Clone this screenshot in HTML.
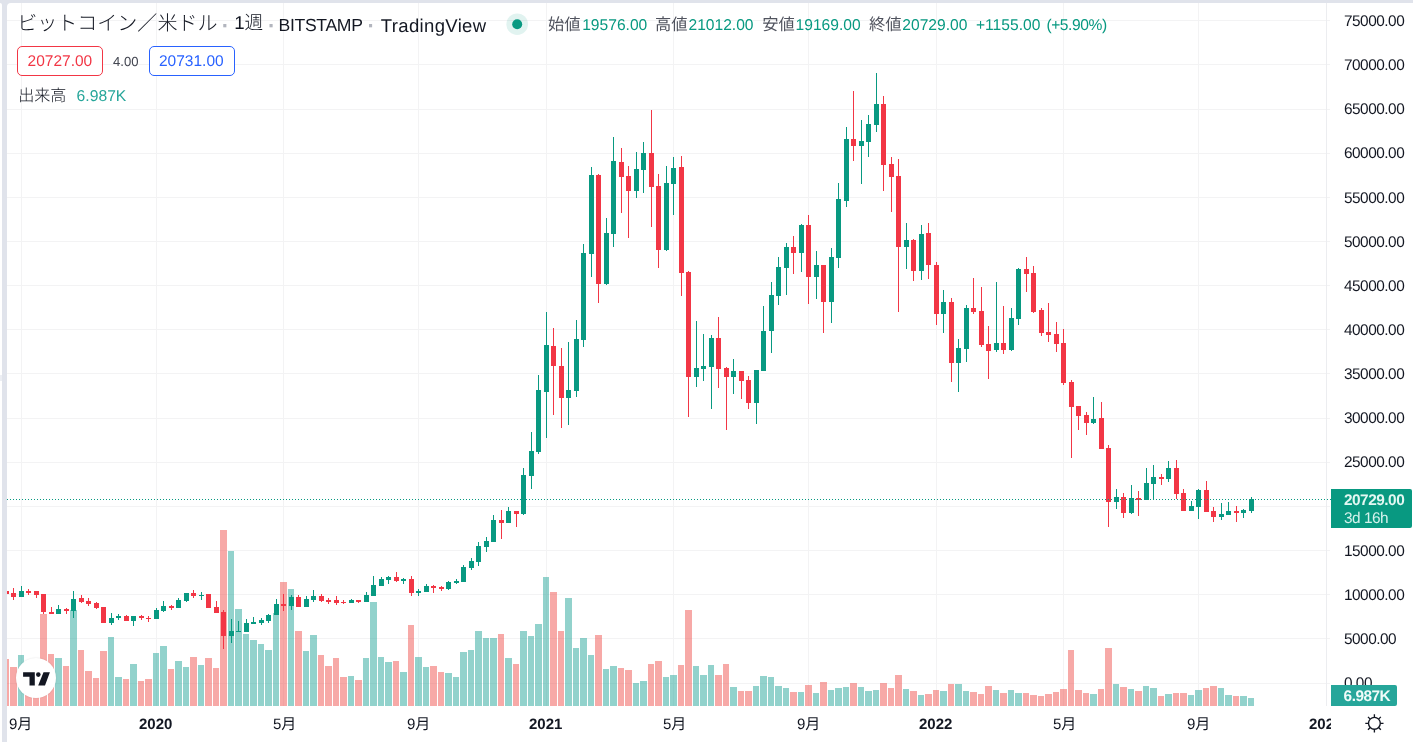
<!DOCTYPE html>
<html lang="ja">
<head>
<meta charset="utf-8">
<title>ビットコイン／米ドル</title>
<style>
html,body{margin:0;padding:0;}
body{width:1413px;height:742px;overflow:hidden;background:#e0e3eb;position:relative;
 font-family:"Liberation Sans","Noto Sans CJK JP",sans-serif;color:#131722;text-rendering:geometricPrecision;}
.leftw{position:absolute;left:0;top:3px;width:2px;height:739px;background:#fff;border-top-right-radius:2px;}
.panel{position:absolute;left:7px;top:3px;width:1406px;height:739px;background:#fff;border-top-left-radius:4px;}
svg.chart{position:absolute;left:0;top:0;}
.t{position:absolute;white-space:nowrap;line-height:1;}
.ax{font-size:15.4px;letter-spacing:-0.5px;color:#131722;}
.tm{font-size:15px;color:#131722;}
.b{font-weight:bold;}
.title{font-size:18px;color:#131722;}
.sep{color:#b2b5be;}
.lbl{color:#50535e;}
.gv{color:#089981;}
.box{position:absolute;box-sizing:border-box;border:1px solid;border-radius:5px;background:#fff;}
.plabel{position:absolute;left:1331px;top:489px;width:81px;height:39px;background:#089981;border-radius:0 2px 2px 0;}
.vlabel{position:absolute;left:1331px;top:685px;width:66px;height:21px;background:#26a69a;border-radius:0 2px 2px 0;}
.timeclip{position:absolute;left:7px;top:706px;width:1324px;height:36px;overflow:hidden;}
</style>
</head>
<body>
<div class="leftw"></div>
<div class="panel"></div>
<svg class="chart" width="1413" height="742" viewBox="0 0 1413 742" shape-rendering="crispEdges">
<defs><clipPath id="cp"><rect x="7" y="3" width="1406" height="739"/></clipPath></defs><g clip-path="url(#cp)">
<g fill="#f3f3f4"><rect x="7" y="20" width="1323" height="1"/><rect x="7" y="64" width="1323" height="1"/><rect x="7" y="109" width="1323" height="1"/><rect x="7" y="153" width="1323" height="1"/><rect x="7" y="197" width="1323" height="1"/><rect x="7" y="241" width="1323" height="1"/><rect x="7" y="285" width="1323" height="1"/><rect x="7" y="329" width="1323" height="1"/><rect x="7" y="373" width="1323" height="1"/><rect x="7" y="418" width="1323" height="1"/><rect x="7" y="462" width="1323" height="1"/><rect x="7" y="506" width="1323" height="1"/><rect x="7" y="550" width="1323" height="1"/><rect x="7" y="594" width="1323" height="1"/><rect x="7" y="638" width="1323" height="1"/><rect x="7" y="683" width="1323" height="1"/><rect x="21" y="3" width="1" height="703"/><rect x="156" y="3" width="1" height="703"/><rect x="283" y="3" width="1" height="703"/><rect x="418" y="3" width="1" height="703"/><rect x="546" y="3" width="1" height="703"/><rect x="673" y="3" width="1" height="703"/><rect x="808" y="3" width="1" height="703"/><rect x="936" y="3" width="1" height="703"/><rect x="1063" y="3" width="1" height="703"/><rect x="1198" y="3" width="1" height="703"/></g>
<rect x="1326" y="3" width="1" height="703" fill="#ecedf0"/>
<g fill="#26a69a" fill-opacity="0.5"><rect x="18" y="655" width="6" height="51"/><rect x="55" y="658" width="7" height="48"/><rect x="70" y="610" width="7" height="96"/><rect x="108" y="637" width="6" height="69"/><rect x="115" y="677" width="7" height="29"/><rect x="130" y="664" width="7" height="42"/><rect x="153" y="653" width="6" height="53"/><rect x="160" y="646" width="7" height="60"/><rect x="175" y="661" width="7" height="45"/><rect x="183" y="667" width="6" height="39"/><rect x="198" y="665" width="6" height="41"/><rect x="228" y="551" width="6" height="155"/><rect x="235" y="609" width="7" height="97"/><rect x="243" y="634" width="6" height="72"/><rect x="250" y="640" width="7" height="66"/><rect x="258" y="644" width="6" height="62"/><rect x="265" y="650" width="7" height="56"/><rect x="273" y="613" width="6" height="93"/><rect x="288" y="589" width="6" height="117"/><rect x="303" y="651" width="6" height="55"/><rect x="310" y="635" width="7" height="71"/><rect x="348" y="676" width="6" height="30"/><rect x="363" y="658" width="6" height="48"/><rect x="370" y="602" width="7" height="104"/><rect x="378" y="657" width="6" height="49"/><rect x="385" y="662" width="7" height="44"/><rect x="400" y="672" width="7" height="34"/><rect x="415" y="657" width="7" height="49"/><rect x="423" y="667" width="6" height="39"/><rect x="445" y="673" width="7" height="33"/><rect x="453" y="677" width="6" height="29"/><rect x="460" y="652" width="7" height="54"/><rect x="468" y="650" width="6" height="56"/><rect x="475" y="631" width="7" height="75"/><rect x="483" y="638" width="6" height="68"/><rect x="490" y="638" width="7" height="68"/><rect x="505" y="658" width="7" height="48"/><rect x="520" y="631" width="7" height="75"/><rect x="528" y="636" width="6" height="70"/><rect x="535" y="624" width="7" height="82"/><rect x="543" y="577" width="6" height="129"/><rect x="565" y="598" width="7" height="108"/><rect x="573" y="648" width="6" height="58"/><rect x="580" y="638" width="7" height="68"/><rect x="588" y="655" width="6" height="51"/><rect x="603" y="669" width="6" height="37"/><rect x="610" y="666" width="7" height="40"/><rect x="633" y="683" width="6" height="23"/><rect x="640" y="681" width="7" height="25"/><rect x="663" y="677" width="6" height="29"/><rect x="670" y="675" width="7" height="31"/><rect x="693" y="666" width="6" height="40"/><rect x="700" y="675" width="7" height="31"/><rect x="708" y="665" width="6" height="41"/><rect x="730" y="687" width="7" height="19"/><rect x="753" y="686" width="6" height="20"/><rect x="760" y="676" width="7" height="30"/><rect x="768" y="677" width="6" height="29"/><rect x="775" y="686" width="7" height="20"/><rect x="783" y="688" width="6" height="18"/><rect x="798" y="692" width="6" height="14"/><rect x="813" y="693" width="6" height="13"/><rect x="828" y="690" width="6" height="16"/><rect x="835" y="688" width="7" height="18"/><rect x="843" y="687" width="6" height="19"/><rect x="858" y="687" width="6" height="19"/><rect x="865" y="691" width="7" height="15"/><rect x="873" y="690" width="6" height="16"/><rect x="903" y="689" width="6" height="17"/><rect x="918" y="695" width="6" height="11"/><rect x="940" y="691" width="7" height="15"/><rect x="955" y="684" width="7" height="22"/><rect x="963" y="691" width="6" height="15"/><rect x="993" y="690" width="6" height="16"/><rect x="1008" y="690" width="6" height="16"/><rect x="1015" y="693" width="7" height="13"/><rect x="1090" y="694" width="7" height="12"/><rect x="1113" y="684" width="6" height="22"/><rect x="1128" y="689" width="6" height="17"/><rect x="1143" y="686" width="6" height="20"/><rect x="1150" y="688" width="7" height="18"/><rect x="1165" y="694" width="7" height="12"/><rect x="1188" y="695" width="6" height="11"/><rect x="1195" y="690" width="7" height="16"/><rect x="1218" y="688" width="6" height="18"/><rect x="1225" y="695" width="7" height="11"/><rect x="1240" y="696" width="7" height="10"/><rect x="1248" y="698" width="6" height="8"/></g>
<g fill="#ef5350" fill-opacity="0.5"><rect x="3" y="659" width="6" height="47"/><rect x="10" y="667" width="7" height="39"/><rect x="25" y="672" width="7" height="34"/><rect x="33" y="674" width="6" height="32"/><rect x="40" y="614" width="7" height="92"/><rect x="48" y="654" width="6" height="52"/><rect x="63" y="666" width="6" height="40"/><rect x="78" y="650" width="6" height="56"/><rect x="85" y="671" width="7" height="35"/><rect x="93" y="678" width="6" height="28"/><rect x="100" y="651" width="7" height="55"/><rect x="123" y="679" width="6" height="27"/><rect x="138" y="681" width="6" height="25"/><rect x="145" y="679" width="7" height="27"/><rect x="168" y="669" width="6" height="37"/><rect x="190" y="657" width="7" height="49"/><rect x="205" y="658" width="7" height="48"/><rect x="213" y="668" width="6" height="38"/><rect x="220" y="530" width="7" height="176"/><rect x="280" y="582" width="7" height="124"/><rect x="295" y="631" width="7" height="75"/><rect x="318" y="655" width="6" height="51"/><rect x="325" y="666" width="7" height="40"/><rect x="333" y="658" width="6" height="48"/><rect x="340" y="677" width="7" height="29"/><rect x="355" y="680" width="7" height="26"/><rect x="393" y="661" width="6" height="45"/><rect x="408" y="625" width="6" height="81"/><rect x="430" y="666" width="7" height="40"/><rect x="438" y="672" width="6" height="34"/><rect x="498" y="634" width="6" height="72"/><rect x="513" y="664" width="6" height="42"/><rect x="550" y="592" width="7" height="114"/><rect x="558" y="631" width="6" height="75"/><rect x="595" y="635" width="7" height="71"/><rect x="618" y="668" width="6" height="38"/><rect x="625" y="670" width="7" height="36"/><rect x="648" y="664" width="6" height="42"/><rect x="655" y="661" width="7" height="45"/><rect x="678" y="665" width="6" height="41"/><rect x="685" y="610" width="7" height="96"/><rect x="715" y="675" width="7" height="31"/><rect x="723" y="664" width="6" height="42"/><rect x="738" y="691" width="6" height="15"/><rect x="745" y="691" width="7" height="15"/><rect x="790" y="692" width="7" height="14"/><rect x="805" y="685" width="7" height="21"/><rect x="820" y="682" width="7" height="24"/><rect x="850" y="683" width="7" height="23"/><rect x="880" y="683" width="7" height="23"/><rect x="888" y="688" width="6" height="18"/><rect x="895" y="675" width="7" height="31"/><rect x="910" y="691" width="7" height="15"/><rect x="925" y="694" width="7" height="12"/><rect x="933" y="690" width="6" height="16"/><rect x="948" y="684" width="6" height="22"/><rect x="970" y="692" width="7" height="14"/><rect x="978" y="694" width="6" height="12"/><rect x="985" y="686" width="7" height="20"/><rect x="1000" y="693" width="7" height="13"/><rect x="1023" y="693" width="6" height="13"/><rect x="1030" y="695" width="7" height="11"/><rect x="1038" y="696" width="6" height="10"/><rect x="1045" y="694" width="7" height="12"/><rect x="1053" y="692" width="6" height="14"/><rect x="1060" y="689" width="7" height="17"/><rect x="1068" y="650" width="6" height="56"/><rect x="1075" y="690" width="7" height="16"/><rect x="1083" y="693" width="6" height="13"/><rect x="1098" y="689" width="6" height="17"/><rect x="1105" y="648" width="7" height="58"/><rect x="1120" y="687" width="7" height="19"/><rect x="1135" y="691" width="7" height="15"/><rect x="1158" y="696" width="6" height="10"/><rect x="1173" y="693" width="6" height="13"/><rect x="1180" y="693" width="7" height="13"/><rect x="1203" y="688" width="6" height="18"/><rect x="1210" y="686" width="7" height="20"/><rect x="1233" y="696" width="6" height="10"/></g>
<g fill="#089981"><rect x="21" y="586" width="1" height="11"/><rect x="19" y="591" width="5" height="6"/><rect x="58" y="605" width="1" height="9"/><rect x="56" y="609" width="5" height="5"/><rect x="73" y="591" width="1" height="27"/><rect x="71" y="599" width="5" height="12"/><rect x="111" y="613" width="1" height="12"/><rect x="109" y="618" width="5" height="5"/><rect x="118" y="614" width="1" height="6"/><rect x="116" y="616" width="5" height="2"/><rect x="133" y="616" width="1" height="10"/><rect x="131" y="616" width="5" height="5"/><rect x="156" y="608" width="1" height="11"/><rect x="154" y="610" width="5" height="9"/><rect x="163" y="601" width="1" height="11"/><rect x="161" y="606" width="5" height="5"/><rect x="178" y="598" width="1" height="10"/><rect x="176" y="600" width="5" height="8"/><rect x="186" y="593" width="1" height="9"/><rect x="184" y="593" width="5" height="8"/><rect x="201" y="592" width="1" height="8"/><rect x="199" y="595" width="5" height="1"/><rect x="231" y="619" width="1" height="24"/><rect x="229" y="631" width="5" height="5"/><rect x="238" y="621" width="1" height="11"/><rect x="236" y="631" width="5" height="1"/><rect x="246" y="619" width="1" height="13"/><rect x="244" y="623" width="5" height="9"/><rect x="253" y="617" width="1" height="7"/><rect x="251" y="622" width="5" height="2"/><rect x="261" y="618" width="1" height="7"/><rect x="259" y="620" width="5" height="3"/><rect x="268" y="614" width="1" height="9"/><rect x="266" y="615" width="5" height="6"/><rect x="276" y="599" width="1" height="16"/><rect x="274" y="604" width="5" height="11"/><rect x="291" y="595" width="1" height="15"/><rect x="289" y="597" width="5" height="9"/><rect x="306" y="596" width="1" height="11"/><rect x="304" y="599" width="5" height="8"/><rect x="313" y="590" width="1" height="12"/><rect x="311" y="596" width="5" height="4"/><rect x="351" y="599" width="1" height="4"/><rect x="349" y="600" width="5" height="3"/><rect x="366" y="592" width="1" height="10"/><rect x="364" y="595" width="5" height="7"/><rect x="373" y="576" width="1" height="20"/><rect x="371" y="585" width="5" height="11"/><rect x="381" y="577" width="1" height="9"/><rect x="379" y="579" width="5" height="7"/><rect x="388" y="576" width="1" height="8"/><rect x="386" y="577" width="5" height="3"/><rect x="403" y="578" width="1" height="6"/><rect x="401" y="579" width="5" height="2"/><rect x="418" y="589" width="1" height="7"/><rect x="416" y="591" width="5" height="2"/><rect x="426" y="584" width="1" height="8"/><rect x="424" y="586" width="5" height="6"/><rect x="448" y="581" width="1" height="9"/><rect x="446" y="582" width="5" height="7"/><rect x="456" y="579" width="1" height="5"/><rect x="454" y="581" width="5" height="2"/><rect x="463" y="565" width="1" height="17"/><rect x="461" y="567" width="5" height="15"/><rect x="471" y="558" width="1" height="12"/><rect x="469" y="561" width="5" height="7"/><rect x="478" y="542" width="1" height="24"/><rect x="476" y="546" width="5" height="16"/><rect x="486" y="537" width="1" height="15"/><rect x="484" y="541" width="5" height="6"/><rect x="493" y="515" width="1" height="27"/><rect x="491" y="520" width="5" height="22"/><rect x="508" y="507" width="1" height="16"/><rect x="506" y="511" width="5" height="12"/><rect x="523" y="468" width="1" height="47"/><rect x="521" y="475" width="5" height="39"/><rect x="531" y="432" width="1" height="57"/><rect x="529" y="451" width="5" height="25"/><rect x="538" y="375" width="1" height="79"/><rect x="536" y="390" width="5" height="62"/><rect x="546" y="312" width="1" height="126"/><rect x="544" y="345" width="5" height="47"/><rect x="568" y="342" width="1" height="83"/><rect x="566" y="390" width="5" height="8"/><rect x="576" y="320" width="1" height="77"/><rect x="574" y="339" width="5" height="52"/><rect x="583" y="244" width="1" height="103"/><rect x="581" y="253" width="5" height="87"/><rect x="591" y="167" width="1" height="110"/><rect x="589" y="175" width="5" height="79"/><rect x="606" y="218" width="1" height="67"/><rect x="604" y="233" width="5" height="51"/><rect x="613" y="137" width="1" height="110"/><rect x="611" y="161" width="5" height="73"/><rect x="636" y="152" width="1" height="46"/><rect x="634" y="169" width="5" height="22"/><rect x="643" y="142" width="1" height="51"/><rect x="641" y="153" width="5" height="17"/><rect x="666" y="166" width="1" height="85"/><rect x="664" y="183" width="5" height="67"/><rect x="673" y="157" width="1" height="58"/><rect x="671" y="168" width="5" height="16"/><rect x="696" y="321" width="1" height="66"/><rect x="694" y="368" width="5" height="9"/><rect x="703" y="334" width="1" height="47"/><rect x="701" y="366" width="5" height="3"/><rect x="711" y="335" width="1" height="74"/><rect x="709" y="338" width="5" height="29"/><rect x="733" y="359" width="1" height="35"/><rect x="731" y="371" width="5" height="6"/><rect x="756" y="370" width="1" height="54"/><rect x="754" y="370" width="5" height="33"/><rect x="763" y="306" width="1" height="65"/><rect x="761" y="331" width="5" height="40"/><rect x="771" y="282" width="1" height="71"/><rect x="769" y="295" width="5" height="36"/><rect x="778" y="257" width="1" height="48"/><rect x="776" y="267" width="5" height="29"/><rect x="786" y="243" width="1" height="52"/><rect x="784" y="247" width="5" height="21"/><rect x="801" y="224" width="1" height="48"/><rect x="799" y="225" width="5" height="28"/><rect x="816" y="251" width="1" height="48"/><rect x="814" y="265" width="5" height="12"/><rect x="831" y="248" width="1" height="75"/><rect x="829" y="257" width="5" height="45"/><rect x="838" y="183" width="1" height="85"/><rect x="836" y="199" width="5" height="59"/><rect x="846" y="127" width="1" height="80"/><rect x="844" y="139" width="5" height="62"/><rect x="861" y="120" width="1" height="64"/><rect x="859" y="141" width="5" height="5"/><rect x="868" y="115" width="1" height="42"/><rect x="866" y="124" width="5" height="18"/><rect x="876" y="73" width="1" height="59"/><rect x="874" y="104" width="5" height="21"/><rect x="906" y="223" width="1" height="46"/><rect x="904" y="240" width="5" height="7"/><rect x="921" y="225" width="1" height="55"/><rect x="919" y="234" width="5" height="37"/><rect x="943" y="290" width="1" height="43"/><rect x="941" y="302" width="5" height="12"/><rect x="958" y="339" width="1" height="53"/><rect x="956" y="348" width="5" height="15"/><rect x="966" y="305" width="1" height="57"/><rect x="964" y="308" width="5" height="41"/><rect x="996" y="282" width="1" height="70"/><rect x="994" y="343" width="5" height="7"/><rect x="1011" y="308" width="1" height="43"/><rect x="1009" y="318" width="5" height="32"/><rect x="1018" y="268" width="1" height="57"/><rect x="1016" y="269" width="5" height="50"/><rect x="1093" y="397" width="1" height="27"/><rect x="1091" y="419" width="5" height="4"/><rect x="1116" y="489" width="1" height="20"/><rect x="1114" y="497" width="5" height="5"/><rect x="1131" y="485" width="1" height="29"/><rect x="1129" y="498" width="5" height="15"/><rect x="1146" y="468" width="1" height="32"/><rect x="1144" y="483" width="5" height="17"/><rect x="1153" y="465" width="1" height="35"/><rect x="1151" y="477" width="5" height="7"/><rect x="1168" y="461" width="1" height="21"/><rect x="1166" y="468" width="5" height="11"/><rect x="1191" y="501" width="1" height="10"/><rect x="1189" y="506" width="5" height="5"/><rect x="1198" y="489" width="1" height="30"/><rect x="1196" y="490" width="5" height="17"/><rect x="1221" y="503" width="1" height="17"/><rect x="1219" y="514" width="5" height="3"/><rect x="1228" y="502" width="1" height="13"/><rect x="1226" y="511" width="5" height="4"/><rect x="1243" y="509" width="1" height="9"/><rect x="1241" y="510" width="5" height="3"/><rect x="1251" y="497" width="1" height="16"/><rect x="1249" y="499" width="5" height="12"/></g>
<g fill="#f23645"><rect x="6" y="591" width="1" height="3"/><rect x="4" y="591" width="5" height="3"/><rect x="13" y="588" width="1" height="12"/><rect x="11" y="593" width="5" height="4"/><rect x="28" y="589" width="1" height="6"/><rect x="26" y="591" width="5" height="2"/><rect x="36" y="591" width="1" height="7"/><rect x="34" y="591" width="5" height="4"/><rect x="43" y="594" width="1" height="20"/><rect x="41" y="594" width="5" height="18"/><rect x="51" y="607" width="1" height="7"/><rect x="49" y="612" width="5" height="2"/><rect x="66" y="608" width="1" height="6"/><rect x="64" y="609" width="5" height="2"/><rect x="81" y="595" width="1" height="8"/><rect x="79" y="598" width="5" height="4"/><rect x="88" y="598" width="1" height="8"/><rect x="86" y="601" width="5" height="3"/><rect x="96" y="602" width="1" height="7"/><rect x="94" y="603" width="5" height="5"/><rect x="103" y="607" width="1" height="16"/><rect x="101" y="607" width="5" height="16"/><rect x="126" y="615" width="1" height="6"/><rect x="124" y="616" width="5" height="5"/><rect x="141" y="615" width="1" height="5"/><rect x="139" y="616" width="5" height="2"/><rect x="148" y="616" width="1" height="6"/><rect x="146" y="618" width="5" height="1"/><rect x="171" y="605" width="1" height="5"/><rect x="169" y="606" width="5" height="2"/><rect x="193" y="590" width="1" height="8"/><rect x="191" y="593" width="5" height="3"/><rect x="208" y="594" width="1" height="14"/><rect x="206" y="594" width="5" height="14"/><rect x="216" y="601" width="1" height="12"/><rect x="214" y="607" width="5" height="6"/><rect x="223" y="610" width="1" height="39"/><rect x="221" y="612" width="5" height="24"/><rect x="283" y="594" width="1" height="17"/><rect x="281" y="604" width="5" height="2"/><rect x="298" y="595" width="1" height="12"/><rect x="296" y="597" width="5" height="10"/><rect x="321" y="594" width="1" height="8"/><rect x="319" y="596" width="5" height="5"/><rect x="328" y="598" width="1" height="6"/><rect x="326" y="600" width="5" height="2"/><rect x="336" y="596" width="1" height="9"/><rect x="334" y="600" width="5" height="3"/><rect x="343" y="600" width="1" height="4"/><rect x="341" y="602" width="5" height="1"/><rect x="358" y="600" width="1" height="3"/><rect x="356" y="600" width="5" height="2"/><rect x="396" y="572" width="1" height="10"/><rect x="394" y="577" width="5" height="4"/><rect x="411" y="576" width="1" height="20"/><rect x="409" y="579" width="5" height="14"/><rect x="433" y="585" width="1" height="8"/><rect x="431" y="586" width="5" height="2"/><rect x="441" y="586" width="1" height="5"/><rect x="439" y="587" width="5" height="2"/><rect x="501" y="510" width="1" height="29"/><rect x="499" y="520" width="5" height="3"/><rect x="516" y="511" width="1" height="16"/><rect x="514" y="511" width="5" height="3"/><rect x="553" y="328" width="1" height="87"/><rect x="551" y="346" width="5" height="20"/><rect x="561" y="348" width="1" height="80"/><rect x="559" y="366" width="5" height="32"/><rect x="598" y="174" width="1" height="129"/><rect x="596" y="175" width="5" height="109"/><rect x="621" y="148" width="1" height="65"/><rect x="619" y="162" width="5" height="15"/><rect x="628" y="166" width="1" height="72"/><rect x="626" y="176" width="5" height="15"/><rect x="651" y="110" width="1" height="117"/><rect x="649" y="153" width="5" height="34"/><rect x="658" y="174" width="1" height="94"/><rect x="656" y="186" width="5" height="64"/><rect x="681" y="156" width="1" height="140"/><rect x="679" y="167" width="5" height="106"/><rect x="688" y="271" width="1" height="146"/><rect x="686" y="272" width="5" height="105"/><rect x="718" y="317" width="1" height="71"/><rect x="716" y="338" width="5" height="31"/><rect x="726" y="367" width="1" height="63"/><rect x="724" y="368" width="5" height="9"/><rect x="741" y="371" width="1" height="28"/><rect x="739" y="371" width="5" height="10"/><rect x="748" y="376" width="1" height="33"/><rect x="746" y="380" width="5" height="23"/><rect x="793" y="236" width="1" height="38"/><rect x="791" y="247" width="5" height="6"/><rect x="808" y="215" width="1" height="89"/><rect x="806" y="225" width="5" height="52"/><rect x="823" y="265" width="1" height="68"/><rect x="821" y="265" width="5" height="37"/><rect x="853" y="91" width="1" height="70"/><rect x="851" y="139" width="5" height="7"/><rect x="883" y="96" width="1" height="95"/><rect x="881" y="104" width="5" height="61"/><rect x="891" y="157" width="1" height="55"/><rect x="889" y="164" width="5" height="13"/><rect x="898" y="159" width="1" height="153"/><rect x="896" y="176" width="5" height="71"/><rect x="913" y="239" width="1" height="42"/><rect x="911" y="240" width="5" height="31"/><rect x="928" y="223" width="1" height="56"/><rect x="926" y="233" width="5" height="32"/><rect x="936" y="262" width="1" height="63"/><rect x="934" y="265" width="5" height="49"/><rect x="951" y="298" width="1" height="84"/><rect x="949" y="302" width="5" height="61"/><rect x="973" y="278" width="1" height="36"/><rect x="971" y="308" width="5" height="4"/><rect x="981" y="287" width="1" height="60"/><rect x="979" y="311" width="5" height="34"/><rect x="988" y="326" width="1" height="53"/><rect x="986" y="344" width="5" height="7"/><rect x="1003" y="306" width="1" height="48"/><rect x="1001" y="343" width="5" height="7"/><rect x="1026" y="257" width="1" height="35"/><rect x="1024" y="269" width="5" height="5"/><rect x="1033" y="266" width="1" height="47"/><rect x="1031" y="273" width="5" height="39"/><rect x="1041" y="308" width="1" height="28"/><rect x="1039" y="310" width="5" height="23"/><rect x="1048" y="303" width="1" height="39"/><rect x="1046" y="332" width="5" height="3"/><rect x="1056" y="322" width="1" height="30"/><rect x="1054" y="334" width="5" height="10"/><rect x="1063" y="329" width="1" height="56"/><rect x="1061" y="343" width="5" height="40"/><rect x="1071" y="380" width="1" height="78"/><rect x="1069" y="382" width="5" height="25"/><rect x="1078" y="406" width="1" height="24"/><rect x="1076" y="406" width="5" height="10"/><rect x="1086" y="412" width="1" height="23"/><rect x="1084" y="415" width="5" height="8"/><rect x="1101" y="402" width="1" height="47"/><rect x="1099" y="418" width="5" height="31"/><rect x="1108" y="445" width="1" height="82"/><rect x="1106" y="448" width="5" height="54"/><rect x="1123" y="493" width="1" height="25"/><rect x="1121" y="497" width="5" height="16"/><rect x="1138" y="491" width="1" height="25"/><rect x="1136" y="498" width="5" height="2"/><rect x="1161" y="474" width="1" height="11"/><rect x="1159" y="477" width="5" height="2"/><rect x="1176" y="460" width="1" height="39"/><rect x="1174" y="468" width="5" height="26"/><rect x="1183" y="489" width="1" height="22"/><rect x="1181" y="493" width="5" height="18"/><rect x="1206" y="481" width="1" height="31"/><rect x="1204" y="490" width="5" height="22"/><rect x="1213" y="507" width="1" height="15"/><rect x="1211" y="511" width="5" height="6"/><rect x="1236" y="506" width="1" height="16"/><rect x="1234" y="511" width="5" height="2"/></g>
<line x1="7" y1="499.5" x2="1331" y2="499.5" stroke="#089981" stroke-width="1" stroke-dasharray="1 2"/>
</g></svg>

<div id="txt" style="position:absolute;left:0;top:0;width:1413px;height:742px;will-change:transform;">
<!-- legend -->
<div class="t title" id="t1" style="left:17.2px;top:13.9px;font-size:20.05px;font-weight:300;">ビットコイン／米ドル</div>
<div class="t title sep b" id="s1" style="left:221.8px;top:14.5px;font-size:22px;">·</div>
<div class="t title" id="t2" style="left:234.2px;top:14.2px;font-size:18.7px;font-weight:300;">1週</div>
<div class="t title sep b" id="s2" style="left:268px;top:14.5px;font-size:22px;">·</div>
<div class="t title" id="t3" style="left:278.5px;top:17.3px;font-size:17.6px;letter-spacing:-0.32px;">BITSTAMP</div>
<div class="t title sep b" id="s3" style="left:367.5px;top:14.5px;font-size:22px;">·</div>
<div class="t title" id="t4" style="left:380.8px;top:16.5px;font-size:18.5px;letter-spacing:0.35px;">TradingView</div>

<svg style="position:absolute;left:505px;top:12px" width="24" height="24" viewBox="0 0 24 24"><circle cx="12.2" cy="12.2" r="10.8" fill="#089981" fill-opacity="0.12"/><circle cx="12.2" cy="12.2" r="5" fill="#089981"/></svg>

<div class="t lbl" id="o1" style="left:548px;top:17.3px;font-size:16.3px;">始値</div>
<div class="t gv" id="o2" style="left:582.2px;top:17.9px;font-size:15.6px;">19576.00</div>
<div class="t lbl" id="o3" style="left:655px;top:17.3px;font-size:16.3px;">高値</div>
<div class="t gv" id="o4" style="left:688.5px;top:17.9px;font-size:15.6px;">21012.00</div>
<div class="t lbl" id="o5" style="left:762.3px;top:17.3px;font-size:16.3px;">安値</div>
<div class="t gv" id="o6" style="left:795.6px;top:17.9px;font-size:15.6px;">19169.00</div>
<div class="t lbl" id="o7" style="left:869px;top:17.3px;font-size:16.3px;">終値</div>
<div class="t gv" id="o8" style="left:902.3px;top:17.9px;font-size:15.6px;">20729.00</div>
<div class="t gv" id="o9" style="left:976px;top:17.9px;font-size:15.6px;">+1155.00</div>
<div class="t gv" id="o10" style="left:1046.4px;top:17.9px;font-size:15.6px;letter-spacing:-0.42px;">(+5.90%)</div>

<div class="box" style="left:17px;top:46px;width:86px;height:30px;border-color:#f23645;"></div>
<div class="t" id="b1" style="left:27.6px;top:54px;font-size:15.5px;color:#f23645;">20727.00</div>
<div class="t" id="b2" style="left:113px;top:54.8px;font-size:13.1px;color:#434651;">4.00</div>
<div class="box" style="left:149px;top:46px;width:86px;height:30px;border-color:#2962ff;"></div>
<div class="t" id="b3" style="left:159px;top:54px;font-size:15.5px;color:#2962ff;">20731.00</div>

<div class="t" id="v1" style="left:18.2px;top:88.2px;font-size:16.1px;font-weight:300;color:#131722;">出来高</div>
<div class="t" id="v2" style="left:76.6px;top:88.9px;font-size:15.7px;color:#26a69a;">6.987K</div>

<!-- price axis -->
<div class="t ax" style="left:1344px;top:13.7px;">75000.00</div>
<div class="t ax" style="left:1344px;top:57.7px;">70000.00</div>
<div class="t ax" style="left:1344px;top:101.7px;">65000.00</div>
<div class="t ax" style="left:1344px;top:145.7px;">60000.00</div>
<div class="t ax" style="left:1344px;top:190.7px;">55000.00</div>
<div class="t ax" style="left:1344px;top:234.7px;">50000.00</div>
<div class="t ax" style="left:1344px;top:278.7px;">45000.00</div>
<div class="t ax" style="left:1344px;top:322.7px;">40000.00</div>
<div class="t ax" style="left:1344px;top:366.7px;">35000.00</div>
<div class="t ax" style="left:1344px;top:410.7px;">30000.00</div>
<div class="t ax" style="left:1344px;top:454.7px;">25000.00</div>
<div class="t ax" style="left:1344px;top:543.7px;">15000.00</div>
<div class="t ax" style="left:1344px;top:587.7px;">10000.00</div>
<div class="t ax" style="left:1344px;top:631.7px;">5000.00</div>
<div class="t ax" style="left:1344px;top:675.7px;">0.00</div>

<div class="plabel"></div>
<div class="t ax b" id="p1" style="left:1344px;top:492.9px;color:#e3f7f2;">20729.00</div>
<div class="t ax" id="p2" style="left:1344px;top:511.2px;color:#d5f2ec;">3d 16h</div>
<div class="vlabel"></div>
<div class="t ax b" id="p3" style="left:1343.6px;top:689.1px;color:#f0fbf9;">6.987K</div>

<!-- time axis -->
<div class="timeclip">
<div class="t tm" id="m0" style="left:2px;top:11px;">9月</div>
<div class="t tm b" id="m1" style="left:132px;top:11px;">2020</div>
<div class="t tm" id="m2" style="left:266px;top:11px;">5月</div>
<div class="t tm" id="m3" style="left:400px;top:11px;">9月</div>
<div class="t tm b" id="m4" style="left:522px;top:11px;">2021</div>
<div class="t tm" id="m5" style="left:656px;top:11px;">5月</div>
<div class="t tm" id="m6" style="left:790px;top:11px;">9月</div>
<div class="t tm b" id="m7" style="left:912px;top:11px;">2022</div>
<div class="t tm" id="m8" style="left:1046px;top:11px;">5月</div>
<div class="t tm" id="m9" style="left:1180px;top:11px;">9月</div>
<div class="t tm b" id="m10" style="left:1302px;top:11px;">2023</div>
</div>

</div>
<!-- gear -->
<svg style="position:absolute;left:1362.2px;top:711.2px" width="25" height="25" viewBox="0 0 25 25" fill="none" stroke="#131722" stroke-width="1.35" stroke-linecap="butt">
<circle cx="12.4" cy="12.3" r="5.9"/>
<path d="M12.4 3.2v3.2M12.4 18.2v3.2M3.3 12.3h3.2M18.3 12.3h3.2M5.97 5.87l2.26 2.26M16.57 16.47l2.26 2.26M5.97 18.73l2.26-2.26M16.57 8.13l2.26-2.26"/>
</svg>

<div style="position:absolute;left:0;top:375px;width:2px;height:6px;background:#eceef3;"></div>
<!-- logo -->
<div style="position:absolute;left:16px;top:658px;width:40px;height:40px;border-radius:50%;background:#fff;box-shadow:0 0 2px rgba(0,0,0,0.12);"></div>
<svg style="position:absolute;left:0;top:0" width="80" height="742" viewBox="0 0 80 742"><path fill="#131722" d="M23.1 672.3H34.8V685.6H29.5V676.8H23.1ZM43.5 672.3H49.9L45 685.6H38.2Z"/><circle cx="38.3" cy="674.6" r="2.3" fill="#131722"/></svg>
</body>
</html>
